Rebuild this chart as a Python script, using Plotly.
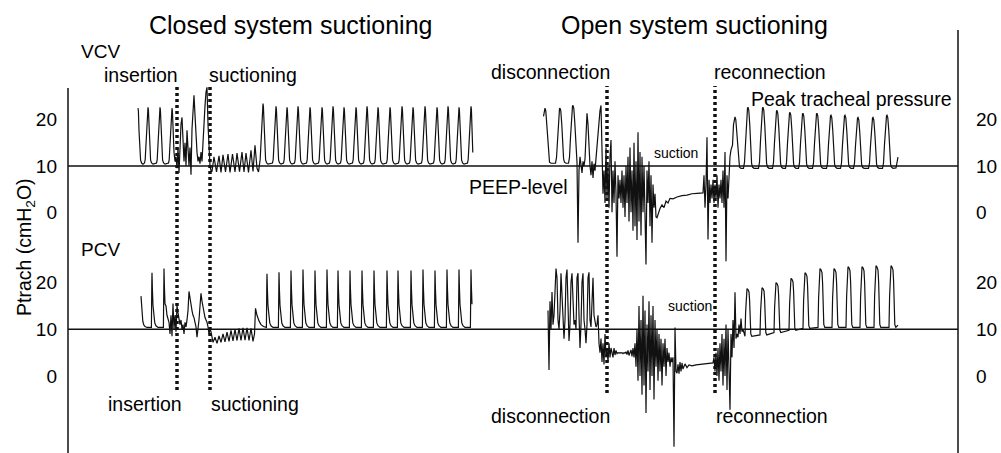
import plotly.graph_objects as go

# ---------------- data: time (s), tracheal pressure (cmH2O) ----------------
# Panel A : VCV, closed system suctioning (top left)
vcv_closed_pre_peak_t = [7.0, 8.0, 9.2, 10.4]
vcv_closed_pre_peak_p = [22.5, 22.7, 22.7, 22.5]
vcv_closed_base = 10.4
vcv_closed_insert_t0 = 10.6
vcv_closed_insert_p = [13, 11, 12, 9.5, 14, 8.5, 16, 19, 20.5, 17, 11, 15, 10, 17.7, 12, 10,
                       14, 8.1, 18, 23, 25.3, 21, 16, 13, 11, 12, 10.5, 13, 11, 16, 19, 23,
                       26, 27, 19, 12, 10, 9]
vcv_closed_suction_t = [14.4, 14.6, 14.85, 15.1, 15.3, 15.5, 15.75, 16.0, 16.2, 16.45, 16.7,
                        16.9, 17.15, 17.4, 17.6, 17.8, 18.05, 18.3, 18.5, 18.7, 18.9, 19.05]
vcv_closed_suction_p = [8.8, 12.0, 8.7, 12.2, 8.6, 12.4, 8.7, 12.6, 8.6, 12.6, 8.7,
                        12.8, 8.8, 13.0, 8.7, 12.8, 8.6, 13.4, 8.8, 14.5, 9.5, 8.7]
vcv_closed_post_peak_t = [19.5, 20.8, 21.9, 23.0, 24.2, 25.4, 26.5, 27.6, 28.8, 29.9, 31.0,
                          32.2, 33.4, 34.5, 35.7, 36.9, 38.0, 39.1, 40.3]
vcv_closed_post_peak_p = [23.5, 22.9, 22.7, 22.9, 22.7, 22.7, 22.9, 22.7, 22.7, 22.9, 22.7,
                          22.7, 22.9, 22.7, 22.9, 22.7, 22.9, 22.7, 22.9]

# Panel B : PCV, closed system suctioning (bottom left)
pcv_closed_pre_peak_t = [7.3, 8.4, 9.6]
pcv_closed_pre_peak_p = [17.1, 22.1, 23.0]
pcv_closed_base = 10.4
pcv_closed_insert_t0 = 9.8
pcv_closed_insert_p = [15, 13, 12, 11.5, 9, 13, 8.5, 15.5, 10, 13, 9.5, 15.1, 13.5, 12.5, 11,
                       12, 10, 11, 9, 11.5, 10.5, 12, 14, 18.1, 16.5, 15, 14, 13, 12.5, 11.5,
                       10.5, 8.3, 10, 12, 15, 17.7, 16, 14.5, 13.5, 12.5, 12, 11.5, 10.5, 9,
                       10, 9.5]
pcv_closed_suction_t = [14.5, 14.7, 14.9, 15.1, 15.3, 15.5, 15.7, 15.9, 16.1, 16.3, 16.5,
                        16.7, 16.9, 17.1, 17.3, 17.5, 17.7, 17.9, 18.1, 18.3, 18.5, 18.65,
                        18.75, 18.9, 19.1, 19.3, 19.55]
pcv_closed_suction_p = [7.2, 8.3, 7.0, 8.6, 7.2, 9.0, 7.3, 9.4, 7.4, 9.8, 7.5,
                        10.0, 7.6, 10.2, 7.6, 10.3, 7.7, 10.3, 7.6, 10.2, 7.4, 9.0,
                        14.5, 13.0, 11.8, 11.0, 10.6]
pcv_closed_post_peak_t = [19.9, 21.1, 22.3, 23.5, 24.7, 25.9, 27.0, 28.2, 29.4, 30.6, 31.9,
                          33.0, 34.3, 35.5, 36.7, 37.9, 39.1, 40.3]
pcv_closed_post_peak_p = [21.9, 22.2, 22.6, 22.8, 22.6, 22.8, 22.6, 22.6, 22.6, 22.6, 22.6,
                          22.6, 22.6, 22.8, 22.6, 22.8, 22.8, 22.8]

# Panel C : VCV, open system suctioning (top right)
vcv_open_pre_peak_t = [47.7, 49.2, 50.5]
vcv_open_pre_peak_p = [22.5, 22.5, 23.1]
vcv_open_pre_base = 10.6
vcv_open_disc_t0 = 50.9
vcv_open_disc_p = [10.8, -6.6, 9, 12, 10, 8.5, 11, 10, 11.5, 16, 21.4, 19, 13, 10, 8, 11, 7.4,
                   10.5, 9, 12, 14, 17, 20, 22, 23.1,
                   12, 4, 9, 2, 14, 3, 10, 1, 12, 15.6, 0, 9, 2, 11, 4, -9.6, 8, 3, 7, 2, 9,
                   1, 8, -1, 10, 2, 12, -2, 14, 0, 9, -4, 15, -3, 11, -6, 17.3, -2, 13, -5,
                   12, 0, 10, -7, -11.3, 9, 2, 11, -3, 8, -6.6, 6, 1, 4, -1, -1.2]
vcv_open_recov_t = [59.0, 59.2, 59.4, 59.6, 59.8, 60.0, 60.2, 60.5, 60.9, 61.4, 61.9, 62.4,
                    62.9, 63.5]
vcv_open_recov_p = [-0.5, 0.8, 1.6, 1.0, 2.4, 2.0, 3.0, 2.9, 3.3, 3.6, 3.7, 4.0, 4.1, 4.2]
vcv_open_reconn_t0 = 63.6
vcv_open_reconn_p = [8, 1, 6, 16.2, -5.9, 7, 2, 6, 3, 7, 2, 6, 3, 8, 1, 6, 3, 7, 2, 9, 1, 13,
                     -10.6, 8, 3, 10, 12, 13.5]
vcv_open_post_peak_t = [66.7, 68.0, 69.5, 70.9, 72.2, 73.5, 74.9, 76.3, 77.7, 79.0, 80.5, 81.9]
vcv_open_post_peak_p = [20.6, 22.7, 22.7, 22.0, 21.6, 21.4, 21.4, 21.0, 21.0, 20.5, 20.5, 21.0]
vcv_open_post_base = 9.5
vcv_open_tail_t = [82.8, 83.0]
vcv_open_tail_p = [9.6, 11.9]

# Panel D : PCV, open system suctioning (bottom right)
pcv_open_disc_t0 = 48.0
pcv_open_disc_p = [14, 1.3, 16, 10, 18, 11, 13, 19, 23, 21,
                   12, 10, 14, 22, 18, 11, 8, 12, 21, 22.8,
                   13, 7.5, 11, 20, 22, 14, 11, 12, 10, 21,
                   22, 13, 6, 11, 20, 22, 12, 10, 7, 11,
                   21, 22.2, 12, 10.5, 16, 21, 13, 11, 10.5, 11,
                   13, 7, 5,
                   8, 3, 7, 2.5, 9, 4, 6, 3, 7, 4, 6, 5, 4, 6, 4.5, 5.5, 4.8, 5, 4.9, 5,
                   4.9, 5, 4.8, 5, 4.9, 5.2, 4.6, 5.5, 4.4, 5, 5.6, 4.2, 6, 4, 7,
                   2, 10, -1, 15, 0, 12, -4, 17.2, -2, 14,
                   -7.9, 11, 1, 16, -3, 13, 0, 15, -5, 12,
                   2, 10, -1, 9, 1, 8, -2, 7, 2, 8,
                   0, 6, 3, 5, 2, 4, 3, 4, -15.1, 10.4,
                   1, 0.6]
pcv_open_recov_t = [61.0, 61.1, 61.2, 61.3, 61.4, 61.5, 61.7, 61.9, 62.1, 62.4, 62.8, 63.2,
                    63.7, 64.2, 64.5]
pcv_open_recov_p = [2.5, 0.5, 3.0, 1.0, 2.8, 1.5, 2.6, 1.8, 2.4, 2.2, 2.4, 2.5, 2.6, 2.7, 2.8]
pcv_open_reconn_t0 = 64.6
pcv_open_reconn_p = [4, 1, 5, 0, 6, -1, 7, 1, 9, -2, 8, 0, 11, -3, 10, 2, -7.2, 9, 4, 12, 6,
                     17.9, 8, 9, 8.3, 11, 9, 12.3, 9.5, 10, 9, 8.6]
pcv_open_post_peak_t = [68.0, 69.5, 70.9, 72.4, 73.8, 75.3, 76.7, 78.1, 79.5, 80.9, 82.4]
pcv_open_post_peak_p = [18.7, 18.9, 20.0, 20.9, 22.1, 23.0, 23.0, 23.4, 23.4, 23.6, 23.6]
pcv_open_post_base = [8.5, 8.8, 9.3, 9.8, 10.2, 10.4, 10.4, 10.4, 10.4, 10.4, 10.4]
pcv_open_tail_t = [83.0]
pcv_open_tail_p = [10.9]

# axis labels / reference levels / event markers
y_ticks = [0, 10, 20]
peep_level = 10
event_times_closed = [10.9, 14.2]     # insertion, suctioning
event_times_open = [53.9, 64.7]       # disconnection, reconnection

# ---------------- breath shape styles (offset s, fraction of amplitude) ----------------
SHAPE_VCV_CLOSED = ([-0.35, -0.28, -0.2, -0.1, -0.03, 0.0, 0.04, 0.1, 0.18, 0.26, 0.36, 0.5],
                    [0.02, 0.08, 0.35, 0.8, 0.98, 1.0, 0.95, 0.6, 0.2, 0.07, 0.02, 0.0])
SHAPE_PCV_CLOSED = ([-0.06, -0.02, 0.0, 0.04, 0.1, 0.18, 0.28, 0.4, 0.6],
                    [0.0, 0.8, 1.0, 0.7, 0.4, 0.2, 0.08, 0.03, 0.0])
SHAPE_VCV_OPEN = ([-0.45, -0.35, -0.25, -0.15, -0.05, 0.0, 0.08, 0.18, 0.28, 0.36, 0.45, 0.6],
                  [0.0, 0.1, 0.45, 0.85, 0.99, 1.0, 0.95, 0.7, 0.3, 0.08, 0.02, 0.0])
SHAPE_PCV_OPEN = ([-0.3, -0.24, -0.18, -0.1, 0.0, 0.1, 0.16, 0.22, 0.28, 0.38],
                  [0.0, 0.5, 0.92, 1.0, 0.98, 0.93, 0.75, 0.3, 0.05, 0.0])
DT = 0.1


def breaths(peak_t, peak_p, base, shape, t_start, t_end):
    dts, fs = shape
    bases = base if isinstance(base, list) else [base] * len(peak_t)
    xs, ys = [], []
    for tp, pp, b in zip(peak_t, peak_p, bases):
        for d, f in zip(dts, fs):
            t = tp + d
            if t_start - 1e-9 <= t <= t_end + 1e-9:
                xs.append(round(t, 4))
                ys.append(b + f * (pp - b))
    return xs, ys


def sampled(t0, vals):
    return [round(t0 + DT * i, 4) for i in range(len(vals))], list(vals)


def join(*segs):
    xs, ys = [], []
    for sx, sy in segs:
        xs += sx
        ys += sy
    return xs, ys


A = join(breaths(vcv_closed_pre_peak_t, vcv_closed_pre_peak_p, vcv_closed_base, SHAPE_VCV_CLOSED, 7.0, 10.55),
         sampled(vcv_closed_insert_t0, vcv_closed_insert_p),
         (vcv_closed_suction_t, vcv_closed_suction_p),
         breaths(vcv_closed_post_peak_t, vcv_closed_post_peak_p, vcv_closed_base, SHAPE_VCV_CLOSED, 19.1, 40.5))
B = join(breaths(pcv_closed_pre_peak_t, pcv_closed_pre_peak_p, pcv_closed_base, SHAPE_PCV_CLOSED, 7.3, 9.75),
         sampled(pcv_closed_insert_t0, pcv_closed_insert_p),
         (pcv_closed_suction_t, pcv_closed_suction_p),
         breaths(pcv_closed_post_peak_t, pcv_closed_post_peak_p, pcv_closed_base, SHAPE_PCV_CLOSED, 19.6, 40.45))
C = join(breaths(vcv_open_pre_peak_t, vcv_open_pre_peak_p, vcv_open_pre_base, SHAPE_VCV_OPEN, 47.5, 50.85),
         sampled(vcv_open_disc_t0, vcv_open_disc_p),
         (vcv_open_recov_t, vcv_open_recov_p),
         sampled(vcv_open_reconn_t0, vcv_open_reconn_p),
         breaths(vcv_open_post_peak_t, vcv_open_post_peak_p, vcv_open_post_base, SHAPE_VCV_OPEN, 66.4, 82.6),
         (vcv_open_tail_t, vcv_open_tail_p))
D = join(sampled(pcv_open_disc_t0, pcv_open_disc_p),
         (pcv_open_recov_t, pcv_open_recov_p),
         sampled(pcv_open_reconn_t0, pcv_open_reconn_p),
         breaths(pcv_open_post_peak_t, pcv_open_post_peak_p, pcv_open_post_base, SHAPE_PCV_OPEN, 67.65, 82.85),
         (pcv_open_tail_t, pcv_open_tail_p))

# ---------------- figure ----------------
W, H = 1001, 453
ML, MR = 60, 35
FONT = "Liberation Sans, Arial, Helvetica, sans-serif"
LINE = dict(color="#111111", width=1.2)

fig = go.Figure()
for (xs, ys), ax in ((A, "y"), (C, "y"), (B, "y2"), (D, "y2")):
    fig.add_trace(go.Scatter(x=xs, y=ys, mode="lines", line=LINE, yaxis=ax,
                             hoverinfo="skip", showlegend=False))
# right-hand copies of the pressure axes
for (xs, ys), ax in ((A, "y3"), (B, "y4")):
    fig.add_trace(go.Scatter(x=xs[:1], y=ys[:1], mode="lines", line=LINE, yaxis=ax,
                             hoverinfo="skip", showlegend=False))

top_range = [-52.054, 45.892]
bot_range = [-16.46, 80.439]
yax = dict(tickvals=y_ticks, showgrid=False, zeroline=False, showline=False, ticks="",
           tickfont=dict(family=FONT, size=19, color="black"), fixedrange=True, domain=[0, 1])
fig.update_layout(
    width=W, height=H, margin=dict(l=ML, r=MR, t=0, b=0),
    paper_bgcolor="white", plot_bgcolor="white",
    xaxis=dict(range=[-0.8, 89.8], visible=False, fixedrange=True),
    yaxis=dict(range=top_range, side="left", ticklabelstandoff=2, **yax),
    yaxis2=dict(range=bot_range, side="left", overlaying="y", ticklabelstandoff=2, **yax),
    yaxis3=dict(range=top_range, side="right", overlaying="y", ticklabelstandoff=9, **yax),
    yaxis4=dict(range=bot_range, side="right", overlaying="y", ticklabelstandoff=9, **yax),
)


def py2paper(py):
    return 1 - py / H


def px2paper(px):
    return (px - ML) / (W - ML - MR)


# frame lines
fig.add_shape(type="line", xref="x", yref="paper", x0=0, x1=0, y0=0, y1=py2paper(88),
              line=dict(color="#111111", width=1.5))
fig.add_shape(type="line", xref="x", yref="paper", x0=89, x1=89, y0=0, y1=py2paper(30),
              line=dict(color="#111111", width=1.5))
for yr in ("y", "y2"):
    fig.add_shape(type="line", xref="x", yref=yr, x0=0, x1=89, y0=peep_level, y1=peep_level,
                  line=dict(color="#111111", width=1.5))
for t in event_times_closed:
    fig.add_shape(type="line", xref="x", yref="paper", x0=t, x1=t, y0=py2paper(390), y1=py2paper(86),
                  line=dict(color="#111111", width=3.5, dash="3px,3px"), layer="above")
for t in event_times_open:
    fig.add_shape(type="line", xref="x", yref="paper", x0=t, x1=t, y0=py2paper(393), y1=py2paper(86),
                  line=dict(color="#111111", width=3.5, dash="3px,3px"), layer="above")

labels = [
    ("Closed system suctioning", 290, 25, "center", 25),
    ("Open system suctioning", 694, 25, "center", 25),
    ("VCV", 80, 51, "left", 19),
    ("insertion", 103, 75, "left", 19.5),
    ("suctioning", 208, 75, "left", 19.5),
    ("disconnection", 490, 72, "left", 19.5),
    ("reconnection", 713, 72, "left", 19.5),
    ("Peak tracheal pressure", 750, 99, "left", 19.5),
    ("suction", 653, 153, "left", 14),
    ("PEEP-level", 569, 187, "right", 19.5),
    ("PCV", 80, 249, "left", 19),
    ("insertion", 107, 404, "left", 19.5),
    ("suctioning", 210, 404, "left", 19.5),
    ("disconnection", 490, 416, "left", 19.5),
    ("reconnection", 715, 416, "left", 19.5),
    ("suction", 667, 306, "left", 14),
]
for text, px, py, anchor, size in labels:
    fig.add_annotation(text=text, xref="paper", yref="paper", x=px2paper(px), y=py2paper(py),
                       xanchor=anchor, yanchor="middle", showarrow=False, borderpad=0,
                       font=dict(family=FONT, size=size, color="black"))
fig.add_annotation(text="Ptrach (cmH<sub>2</sub>O)", xref="paper", yref="paper",
                   x=px2paper(25), y=py2paper(247), xanchor="center", yanchor="middle",
                   textangle=-90, showarrow=False, borderpad=0,
                   font=dict(family=FONT, size=19.5, color="black"))

fig.write_html("out.html")
